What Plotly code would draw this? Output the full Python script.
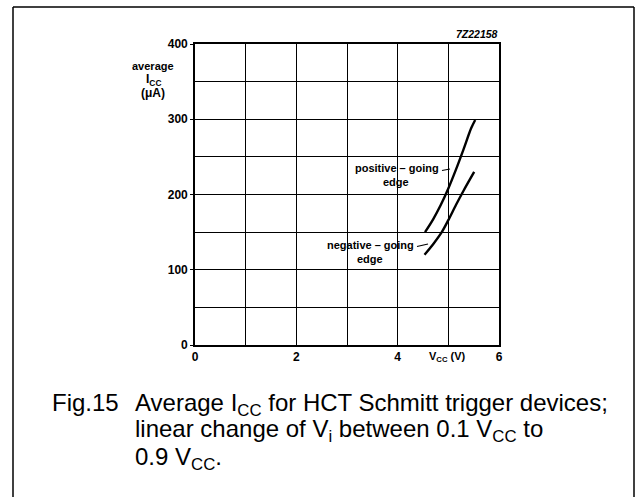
import plotly.graph_objects as go

# ---- data ----
vcc_pos = [4.54, 4.70, 4.85, 5.00, 5.15, 5.30, 5.45, 5.53]
icc_pos = [150, 167, 186, 208, 233, 260, 288, 299]
vcc_neg = [4.53, 4.70, 4.87, 5.00, 5.15, 5.30, 5.51]
icc_neg = [120, 134, 150, 166, 186, 205, 230]
x_ticks = [0, 2, 4, 6]
x_labels = ["0", "2", "4", "6"]
y_ticks = [0, 100, 200, 300, 400]
y_labels = ["0", "100", "200", "300", "400"]

W, H = 638, 497
L, R, T, B = 195, 499, 44, 345


def px(x):
    return (x - L) / (R - L)


def py(y):
    return (B - y) / (B - T)


fig = go.Figure()
for xs, ys in [(vcc_pos, icc_pos), (vcc_neg, icc_neg)]:
    fig.add_trace(go.Scatter(x=xs, y=ys, mode="lines",
                             line=dict(color="black", width=2.4, shape="spline", smoothing=0.8),
                             showlegend=False, hoverinfo="skip"))

tick = dict(family="Liberation Sans, Arial", size=12, color="black")
lab = dict(family="Liberation Sans, Arial", size=11, color="black")
cap = dict(family="Liberation Sans, Arial", size=24, color="black")

fig.update_layout(
    width=W, height=H, autosize=False,
    margin=dict(l=L, r=W - R, t=T, b=H - B, pad=0),
    paper_bgcolor="white", plot_bgcolor="white",
    xaxis=dict(range=[0, 6], tickvals=x_ticks, ticktext=["<b>%s</b>" % t for t in x_labels],
               showgrid=True, gridcolor="black", gridwidth=1.4, zeroline=False,
               minor=dict(dtick=1, tick0=0, showgrid=True, gridcolor="black", gridwidth=1.4, ticks=""),
               showline=True, linecolor="black", linewidth=1.6, mirror=True,
               ticks="", tickfont=tick, fixedrange=True),
    yaxis=dict(range=[0, 400], tickvals=y_ticks, ticktext=["<b>%s</b>" % t for t in y_labels],
               showgrid=True, gridcolor="black", gridwidth=1.4, zeroline=False,
               minor=dict(dtick=50, tick0=0, showgrid=True, gridcolor="black", gridwidth=1.4, ticks=""),
               showline=True, linecolor="black", linewidth=1.6, mirror=True,
               ticks="outside", ticklen=3, tickcolor="black", tickfont=tick, fixedrange=True),
)

ann = []


def add(text, x, y, font, xanchor="center", yanchor="middle", align="center"):
    ann.append(dict(text=text, x=px(x), y=py(y), xref="paper", yref="paper", showarrow=False,
                    font=font, xanchor=xanchor, yanchor=yanchor, align=align))


add("<b><i>7Z22158</i></b>", 477, 34, dict(lab, size=10.5))
add("<b>average</b>", 153, 66, lab)
add("<b>I<sub>CC</sub></b>", 153, 80, tick)
add("<b>(μA)</b>", 153, 93, tick)
add("<b>positive – going</b>", 397, 168, lab)
add("<b>edge</b>", 396, 182, lab)
add("<b>negative – going</b>", 370, 245, lab)
add("<b>edge</b>", 370, 259, lab)
add("<b>V<sub>CC</sub> (V)</b>", 447, 357, lab)
add("Fig.15", 50, 402, cap, xanchor="left")
add("Average I<sub>CC</sub> for HCT Schmitt trigger devices;", 133, 404, cap, xanchor="left")
add("linear change of V<sub>i</sub> between 0.1 V<sub>CC</sub> to", 133, 431, cap, xanchor="left")
add("0.9 V<sub>CC</sub>.", 133, 458, cap, xanchor="left")
fig.update_layout(annotations=ann)

shapes = []
# leader lines
shapes.append(dict(type="line", xref="paper", yref="paper", x0=px(442), y0=py(170.5), x1=px(450), y1=py(169),
                   line=dict(color="black", width=1.2)))
shapes.append(dict(type="line", xref="paper", yref="paper", x0=px(417), y0=py(246.5), x1=px(428), y1=py(244),
                   line=dict(color="black", width=1.2)))
# figure frame (open at the bottom)
for (x0, y0, x1, y1) in [(13, 7, 634, 7), (13, 7, 13, 497), (634, 7, 634, 497)]:
    shapes.append(dict(type="line", xref="paper", yref="paper", x0=px(x0), y0=py(y0), x1=px(x1), y1=py(y1),
                       line=dict(color="black", width=1.5)))
fig.update_layout(shapes=shapes)

fig.write_html("out.html", config={"displayModeBar": False},
               post_script="document.body.style.margin='0px';")
